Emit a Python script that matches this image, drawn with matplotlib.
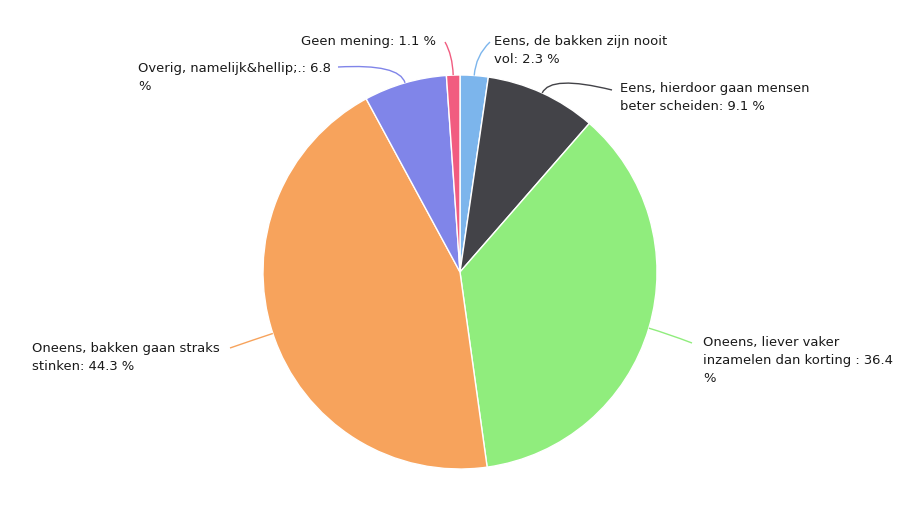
import matplotlib
matplotlib.use("Agg")
import matplotlib.pyplot as plt
import numpy as np
from matplotlib.path import Path
from matplotlib.patches import PathPatch

categories = [
    "Eens, de bakken zijn nooit vol",
    "Eens, hierdoor gaan mensen beter scheiden",
    "Oneens, liever vaker inzamelen dan korting ",
    "Oneens, bakken gaan straks stinken",
    "Overig, namelijk&hellip;.",
    "Geen mening",
]
values = [2.3, 9.1, 36.4, 44.3, 6.8, 1.1]
colors = ["#7cb5ec", "#434348", "#90ed7d", "#f7a35c", "#8085e9", "#f15c80"]
# wrapped display labels (line breaks as in the reference)
label_texts = [
    "Eens, de bakken zijn nooit\nvol: 2.3 %",
    "Eens, hierdoor gaan mensen\nbeter scheiden: 9.1 %",
    "Oneens, liever vaker\ninzamelen dan korting : 36.4\n%",
    "Oneens, bakken gaan straks\nstinken: 44.3 %",
    "Overig, namelijk&hellip;.: 6.8\n%",
    "Geen mening: 1.1 %",
]

W, H = 909, 519
fig = plt.figure(figsize=(W / 100, H / 100), dpi=100)
ax = fig.add_axes([0, 0, 1, 1])

cx, cy, R = 460, 272, 197
# y axis points down (pixel frame): start at screen top, run clockwise on screen
wedges, _ = ax.pie(values, colors=colors, startangle=-90, counterclock=True,
                   center=(cx, cy), radius=R, frame=True,
                   wedgeprops=dict(edgecolor="white", linewidth=1))
ax.set_xlim(0, W)
ax.set_ylim(H, 0)
ax.set_aspect("equal")
ax.axis("off")

# label layout: (text x, first-line y, ha, connector end x, connector end y)
layout = [
    (494, 42, "left", 490, 42),
    (620, 89, "left", 612, 90),
    (703, 343, "left", 692, 343),
    (220, 349, "right", 230, 348),
    (331, 69, "right", 338, 67),
    (436, 42, "right", 445, 42),
]

cum = np.cumsum([0] + values)
for i, (tx, ty, ha, ex, ey) in enumerate(layout):
    mid = (cum[i] + cum[i + 1]) / 2 / 100 * 2 * np.pi
    sx = cx + R * np.sin(mid)
    sy = cy - R * np.cos(mid)
    kx = cx + (R + 20) * np.sin(mid)
    ky = cy - (R + 20) * np.cos(mid)
    path = Path([(sx, sy), (kx, ky), (ex, ey)], [Path.MOVETO, Path.CURVE3, Path.CURVE3])
    ax.add_patch(PathPatch(path, facecolor="none", edgecolor=colors[i], lw=1))
    ax.text(tx, ty - 7, label_texts[i], ha=ha, va="top", fontsize=9.45,
            family="DejaVu Sans", color="#1a1a1a", linespacing=1.5,
            multialignment="left")

fig.savefig("out.png", dpi=100)
